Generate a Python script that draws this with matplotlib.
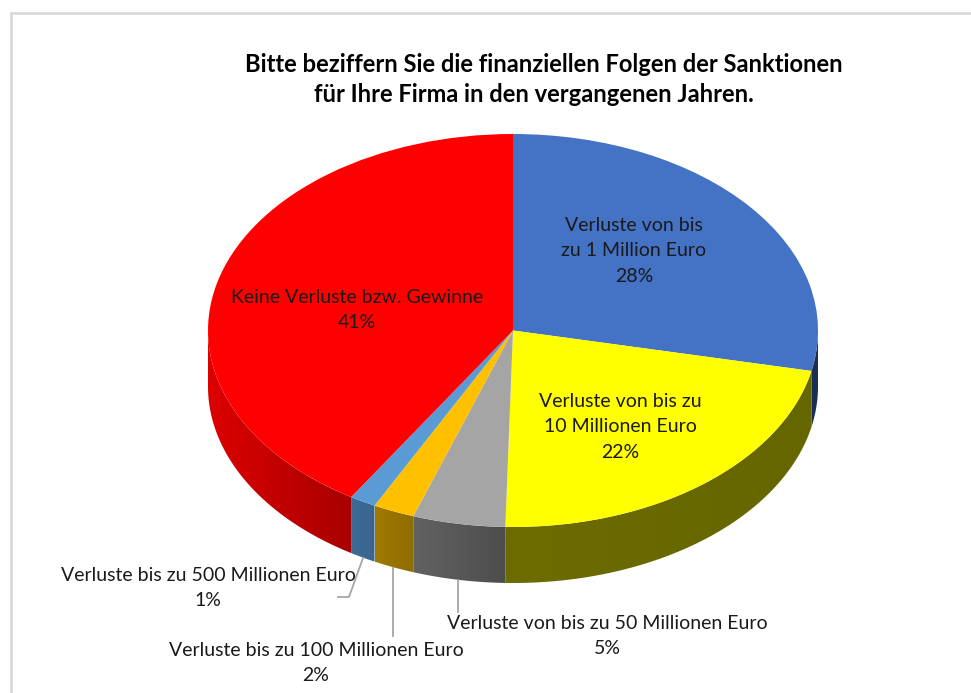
import numpy as np
import matplotlib
matplotlib.use('Agg')
import matplotlib.pyplot as plt
from matplotlib.colors import to_rgb
from matplotlib.patches import Polygon

plt.rcParams['font.family'] = ['Lato', 'DejaVu Sans']

title_lines = ['Bitte beziffern Sie die finanziellen Folgen der Sanktionen',
               'für Ihre Firma in den vergangenen Jahren.']

# clockwise from 12 o'clock, shares, labels show them rounded
categories = ['Verluste von bis\nzu 1 Million Euro',
              'Verluste von bis zu\n10 Millionen Euro',
              'Verluste von bis zu 50 Millionen Euro',
              'Verluste bis zu 100 Millionen Euro',
              'Verluste bis zu 500 Millionen Euro',
              'Keine Verluste bzw. Gewinne']
values = [28.3, 22.1, 4.9, 2.2, 1.4, 41.1]
top_colors = ['#4472C4', '#FFFF00', '#A5A5A5', '#FFC000', '#5B9BD5', '#FF0000']
# side wall shade, left end and right end as seen on screen
side_left = ['#1A2F55', '#6C6C00', '#626262', '#A07A00', '#3D6B96', '#DC0000']
side_right = ['#1A2F55', '#666600', '#4D4D4D', '#8F6C00', '#3A6590', '#A80000']

label_pos = [(634, 251), (620, 427), (607, 636), (316, 663), (208, 588), (357, 310)]

W, H = 971, 693
cx, cy, rx, ry = 513, 330.5, 305, 196.5
depth = 56

fig = plt.figure(figsize=(W / 100, H / 100), dpi=100)

# overlay in pixels, for frame, text and leaders
ov = fig.add_axes([0, 0, 1, 1], zorder=3)
ov.set_xlim(0, W)
ov.set_ylim(H, 0)
ov.axis('off')
ov.patch.set_alpha(0)

# axes reach down past the ellipse so the wall images are not cut off
ax = fig.add_axes([(cx - rx) / W, 1 - (cy + ry + depth) / H, 2 * rx / W, (2 * ry + depth) / H], zorder=2)
ax.pie(values, colors=top_colors, startangle=90, counterclock=False, radius=1,
       wedgeprops=dict(linewidth=0))

# side wall, only the front half of the rim shows
d = depth / ry
fr = np.cumsum([0] + values) / sum(values) * 360
for i in range(len(values)):
    a0 = max(fr[i], 90)
    a1 = min(fr[i + 1], 270)
    if a1 <= a0:
        continue
    th = np.radians(np.linspace(a0, a1, 80))
    xs = np.sin(th)
    ys = np.cos(th)
    outline = np.r_[np.c_[xs, ys], np.c_[xs[::-1], ys[::-1] - d]]
    wall = Polygon(outline, closed=True, transform=ax.transData, facecolor='none', edgecolor='none')
    ax.add_patch(wall)
    grad = np.linspace(to_rgb(side_left[i]), to_rgb(side_right[i]), 64)[np.newaxis, :, :]
    im = ax.imshow(grad, extent=(xs.min(), xs.max(), ys.min() - d, ys.max()),
                   aspect='auto', zorder=0, interpolation='bilinear')
    im.set_clip_path(wall)

ax.set_aspect('auto')
ax.set_xlim(-1, 1)
ax.set_ylim(-1 - d, 1)

# frame runs off the right and bottom of the crop
ov.plot([10.5, 10.5, W + 5], [H + 5, 12.5, 12.5], color='#D9D9D9', lw=2, solid_joinstyle='miter')

ov.text(544, 64, title_lines[0], ha='center', va='center', fontsize=17.1, fontweight='bold', color='black')
ov.text(534, 94, title_lines[1], ha='center', va='center', fontsize=17.1, fontweight='bold', color='black')

for name, v, (tx, ty) in zip(categories, values, label_pos):
    ov.text(tx, ty, '{}\n{:.0f}%'.format(name, v), ha='center', va='center',
            fontsize=14, color='#1A1A1A', linespacing=1.62)

# leader lines
ov.plot([458, 458], [580, 612], color='#A5A5A5', lw=1.3)
ov.plot([393, 393], [568, 636], color='#A5A5A5', lw=1.3)
ov.plot([338, 349, 363], [597, 597, 558], color='#A5A5A5', lw=1.3)

fig.savefig('out.png', dpi=100)
